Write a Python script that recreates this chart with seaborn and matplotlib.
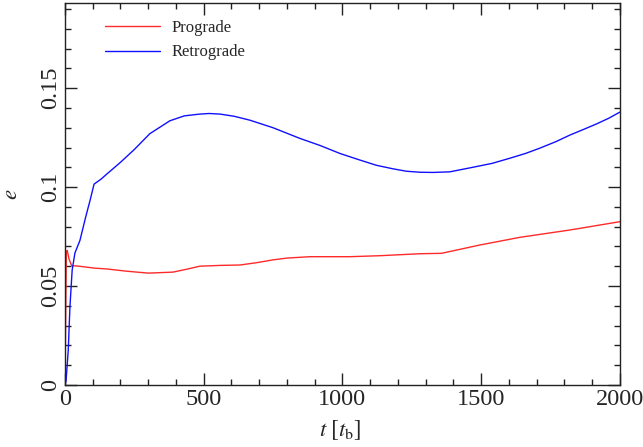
import matplotlib
matplotlib.use("Agg")
import matplotlib.pyplot as plt
import seaborn as sns
import pandas as pd
from matplotlib.ticker import MultipleLocator, FixedLocator, FixedFormatter

# Eccentricity evolution of the binary, time in units of t_b
retro_t = [0, 4, 12, 18, 26, 36, 54, 75, 90, 105, 130, 151, 200, 250, 306, 378,
           430, 486, 520, 559, 610, 667, 750, 847, 920, 991, 1060, 1123, 1180,
           1231, 1280, 1327, 1387, 1470, 1540, 1604, 1660, 1712, 1770, 1820,
           1870, 1917, 1960, 2000]
retro_e = [0.0, 0.002, 0.0177, 0.0395, 0.058, 0.0667, 0.073, 0.085, 0.093,
           0.1015, 0.104, 0.1066, 0.1125, 0.119, 0.127, 0.1335, 0.136, 0.1369,
           0.1372, 0.1369, 0.1358, 0.1338, 0.130, 0.1246, 0.121, 0.117, 0.1138,
           0.111, 0.1093, 0.108, 0.1075, 0.1074, 0.1077, 0.110, 0.112, 0.1146,
           0.117, 0.1197, 0.123, 0.1263, 0.1292, 0.132, 0.1348, 0.1379]

pro_t = [0, 3, 5, 8, 15, 24, 50, 108, 151, 220, 300, 389, 440, 486, 560, 631,
         692, 750, 800, 883, 1027, 1135, 1279, 1357, 1495, 1640, 1820, 2000]
pro_e = [0.0, 0.04, 0.067, 0.068, 0.0635, 0.0603, 0.060, 0.059, 0.0586, 0.0575,
         0.0565, 0.057, 0.0585, 0.060, 0.0604, 0.0606, 0.0618, 0.0632, 0.0641,
         0.0648, 0.0648, 0.0653, 0.0663, 0.0665, 0.0707, 0.0746, 0.0783, 0.0825]

x_ticks = [0, 500, 1000, 1500, 2000]
x_tick_labels = ["0", "500", "1000", "1500", "2000"]
y_ticks = [0, 0.05, 0.1, 0.15]
y_tick_labels = ["0", "0.05", "0.1", "0.15"]

sns.set_style("ticks")
plt.rcParams["font.family"] = ["Liberation Serif", "DejaVu Serif"]
plt.rcParams["mathtext.fontset"] = "stix"

fig = plt.figure(figsize=(6.43, 4.47), dpi=100)
ax = fig.add_axes([0.101, 0.139, 0.863, 0.854])

pro = pd.DataFrame({"t": pro_t, "e": pro_e})
retro = pd.DataFrame({"t": retro_t, "e": retro_e})
sns.lineplot(data=pro, x="t", y="e", ax=ax, color="#ff2a2a", lw=1.0,
             sort=False, label="Prograde")
sns.lineplot(data=retro, x="t", y="e", ax=ax, color="#1010ff", lw=1.0,
             sort=False, label="Retrograde")

ax.set_xlim(0, 2000)
ax.set_ylim(0, 0.193)

ax.xaxis.set_major_locator(FixedLocator(x_ticks))
ax.xaxis.set_major_formatter(FixedFormatter(x_tick_labels))
ax.xaxis.set_minor_locator(MultipleLocator(100))
ax.yaxis.set_major_locator(FixedLocator(y_ticks))
ax.yaxis.set_major_formatter(FixedFormatter(y_tick_labels))
ax.yaxis.set_minor_locator(MultipleLocator(0.01))

ax.tick_params(which="both", direction="in", top=True, right=True,
               color="#222222", width=1.0)
ax.tick_params(which="major", length=8.5, labelsize=17.5, pad=3)
ax.tick_params(which="minor", length=4.5)
for lbl in ax.get_yticklabels():
    lbl.set_rotation(90)
    lbl.set_va("center")

for sp in ax.spines.values():
    sp.set_color("#222222")
    sp.set_linewidth(1.0)

ax.set_xlabel(r"$t\ [t_{\mathrm{b}}]$", fontsize=16.5)
ax.set_ylabel(r"$e$", fontsize=16.5)
ax.xaxis.set_label_coords(0.497, -0.088)
ax.yaxis.set_label_coords(-0.078, 0.5)

ax.legend(loc="upper left", bbox_to_anchor=(0.045, 0.995), frameon=False,
          fontsize=12, handlelength=3.3, handletextpad=0.7, labelspacing=0.5)

fig.savefig("out.png", dpi=100)
